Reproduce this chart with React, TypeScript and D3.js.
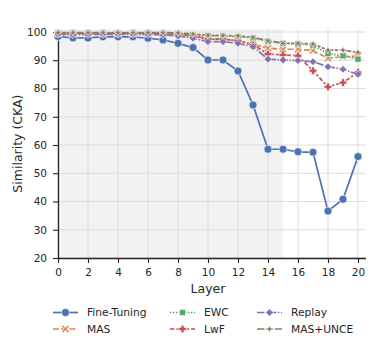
import React, { useEffect, useRef } from 'react';
import * as d3 from 'd3';

// layer indices 0..20
const layers = [0, 1, 2, 3, 4, 5, 6, 7, 8, 9, 10, 11, 12, 13, 14, 15, 16, 17, 18, 19, 20];

const fineTuning = [98.4, 97.9, 97.9, 98.3, 98.3, 98.3, 97.8, 97.2, 96.0, 94.5, 90.1, 90.1, 86.2, 74.2, 58.5, 58.5, 57.6, 57.4, 36.6, 40.8, 55.9];
const mas = [99.5, 99.4, 99.5, 99.5, 99.5, 99.5, 99.5, 99.4, 99.2, 98.8, 97.6, 97.4, 96.9, 95.6, 94.3, 93.9, 93.9, 93.4, 90.7, 91.3, 91.5];
const ewc = [99.7, 99.7, 99.7, 99.7, 99.7, 99.7, 99.7, 99.6, 99.4, 99.1, 98.7, 98.6, 98.4, 97.9, 96.7, 96.0, 95.8, 95.3, 92.4, 91.6, 90.4];
const lwf = [99.6, 99.5, 99.6, 99.6, 99.6, 99.6, 99.6, 99.5, 99.2, 98.5, 97.5, 97.5, 96.9, 95.5, 92.2, 91.9, 91.6, 86.3, 80.6, 82.1, 85.7];
const replay = [99.2, 99.0, 99.1, 99.2, 99.2, 99.2, 99.1, 99.0, 98.6, 97.8, 96.6, 96.6, 96.0, 94.8, 90.4, 90.1, 89.9, 89.5, 87.7, 86.8, 85.0];
const masUnce = [99.8, 99.8, 99.8, 99.8, 99.8, 99.8, 99.8, 99.8, 99.7, 99.3, 98.8, 98.8, 98.6, 98.1, 96.9, 96.0, 96.0, 95.8, 93.6, 93.6, 92.8];

const xTicks = [0, 2, 4, 6, 8, 10, 12, 14, 16, 18, 20];
const yTicks = [20, 30, 40, 50, 60, 70, 80, 90, 100];
const shadedSpan = [0, 15];

const series = [
  { name: 'Fine-Tuning', values: fineTuning, color: '#4c72b0', dash: '', marker: 'circle' },
  { name: 'MAS', values: mas, color: '#dd8452', dash: '6,2.25', marker: 'x' },
  { name: 'EWC', values: ewc, color: '#55a868', dash: '1.5,1.5', marker: 'square' },
  { name: 'LwF', values: lwf, color: '#c44e52', dash: '4.5,1.9,2.25,1.9', marker: 'plus' },
  { name: 'Replay', values: replay, color: '#8172b3', dash: '7.5,1.5,1.5,1.5', marker: 'diamond' },
  { name: 'MAS+UNCE', values: masUnce, color: '#937860', dash: '7.5,1.5,3,1.5,3,1.5', marker: 'star' },
];

const FONT = '"DejaVu Sans", sans-serif';

function markerPath(kind: string, s: number) {
  const a = s, b = s * 0.35;
  switch (kind) {
    case 'x': {
      const p = [[-a, -a + b], [-a + b, -a], [0, -b], [a - b, -a], [a, -a + b], [b, 0], [a, a - b], [a - b, a], [0, b], [-a + b, a], [-a, a - b], [-b, 0]];
      return 'M' + p.map(q => q.join(',')).join('L') + 'Z';
    }
    case 'square':
      return `M${-a * 0.8},${-a * 0.8}H${a * 0.8}V${a * 0.8}H${-a * 0.8}Z`;
    case 'plus': {
      const c = a * 0.38;
      return `M${-c},${-a}H${c}V${-c}H${a}V${c}H${c}V${a}H${-c}V${c}H${-a}V${-c}H${-c}Z`;
    }
    case 'diamond':
      return `M0,${-a}L${a},0L0,${a}L${-a},0Z`;
    case 'star': {
      const c = a * 0.3;
      return `M0,${-a}L${c},${-c}L${a},0L${c},${c}L0,${a}L${-c},${c}L${-a},0L${-c},${-c}Z`;
    }
    default:
      return d3.symbol(d3.symbolCircle, Math.PI * s * s)() as string;
  }
}

export default function App() {
  const ref = useRef<SVGSVGElement>(null);

  useEffect(() => {
    const svg = d3.select(ref.current);
    svg.selectAll('*').remove();

    const x = d3.scaleLinear().domain([0, 20.5]).range([58, 365.5]);
    const y = d3.scaleLinear().domain([20, 101]).range([258, 29.2]);

    // shaded span
    svg.append('rect')
      .attr('x', x(shadedSpan[0]))
      .attr('y', y(101))
      .attr('width', x(shadedSpan[1]) - x(shadedSpan[0]))
      .attr('height', y(20) - y(101))
      .attr('fill', '#f2f2f2');

    // grid
    const grid = svg.append('g').attr('stroke', '#dcdcdc').attr('stroke-width', 1);
    xTicks.forEach(t => {
      grid.append('line').attr('x1', x(t)).attr('x2', x(t)).attr('y1', y(20)).attr('y2', y(101));
    });
    yTicks.forEach(t => {
      grid.append('line').attr('x1', x(0)).attr('x2', x(20.5)).attr('y1', y(t)).attr('y2', y(t));
    });

    // axes
    const xAxis = svg.append('g')
      .attr('transform', `translate(0,${y(20)})`)
      .call(d3.axisBottom(x).tickValues(xTicks).tickSize(5).tickPadding(6).tickSizeOuter(0));
    const yAxis = svg.append('g')
      .attr('transform', `translate(${x(0)},0)`)
      .call(d3.axisLeft(y).tickValues(yTicks).tickSize(5).tickPadding(6).tickSizeOuter(0));
    [xAxis, yAxis].forEach(g => {
      g.selectAll('text').attr('font-family', FONT).attr('font-size', 10.5).attr('fill', '#262626');
      g.selectAll('line').attr('stroke', '#262626').attr('stroke-width', 1.1);
      g.select('.domain').attr('stroke', '#262626').attr('stroke-width', 1.3);
    });

    svg.append('text')
      .attr('x', x(10)).attr('y', 293)
      .attr('text-anchor', 'middle')
      .attr('font-family', FONT).attr('font-size', 12.5).attr('fill', '#262626')
      .text('Layer');
    svg.append('text')
      .attr('transform', `translate(22,${(y(20) + y(101)) / 2}) rotate(-90)`)
      .attr('text-anchor', 'middle')
      .attr('font-family', FONT).attr('font-size', 12.5).attr('fill', '#262626')
      .text('Similarity (CKA)');

    // lines
    const line = d3.line<number>().x((_, i) => x(layers[i])).y(d => y(d));
    series.forEach(s => {
      const g = svg.append('g');
      g.append('path')
        .attr('d', line(s.values))
        .attr('fill', 'none')
        .attr('stroke', s.color)
        .attr('stroke-width', 1.7)
        .attr('stroke-dasharray', s.dash || null);
      g.selectAll('path.m')
        .data(s.values)
        .join('path')
        .attr('class', 'm')
        .attr('transform', (d, i) => `translate(${x(layers[i])},${y(d)})`)
        .attr('d', markerPath(s.marker, s.marker === 'circle' ? 4 : 3.8))
        .attr('fill', s.color)
        .attr('stroke', 'white')
        .attr('stroke-width', 0.6);
    });

    // legend, 3 columns, column-major
    const colX = [53, 170, 257];
    const rowY = [312.5, 329];
    series.forEach((s, i) => {
      const col = Math.floor(i / 2);
      const row = i % 2;
      const lx = colX[col];
      const ly = rowY[row];
      const g = svg.append('g');
      g.append('line')
        .attr('x1', lx).attr('x2', lx + 25).attr('y1', ly).attr('y2', ly)
        .attr('stroke', s.color).attr('stroke-width', 1.7)
        .attr('stroke-dasharray', s.dash || null);
      g.append('path')
        .attr('transform', `translate(${lx + 12.5},${ly})`)
        .attr('d', markerPath(s.marker, s.marker === 'circle' ? 4 : 3.8))
        .attr('fill', s.color)
        .attr('stroke', 'white')
        .attr('stroke-width', 0.6);
      g.append('text')
        .attr('x', lx + 34).attr('y', ly + 3.8)
        .attr('font-family', FONT).attr('font-size', 10.7).attr('fill', '#262626')
        .text(s.name);
    });
  }, []);

  return (
    <svg ref={ref} width={373} height={348} style={{ position: 'absolute', left: 0, top: 0, background: 'white' }}></svg>
  );
}
